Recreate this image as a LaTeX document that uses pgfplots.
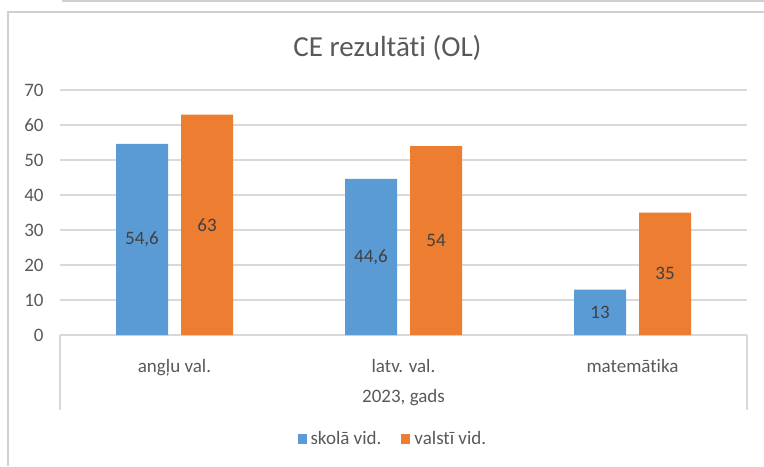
\documentclass[border=0pt]{standalone}
\usepackage{pgfplots}
\pgfplotsset{compat=1.18}
\usepackage{fontspec}
\setmainfont{Carlito}[Ligatures=NoCommon]
\definecolor{cblue}{HTML}{5B9BD5}
\definecolor{corange}{HTML}{ED7D31}
\definecolor{cgrid}{HTML}{D9D9D9}
\definecolor{ctext}{HTML}{595959}
\definecolor{clabel}{HTML}{404040}
\definecolor{cframe}{HTML}{D0D0D0}
\begin{document}
\begin{tikzpicture}
\path[use as bounding box] (0,0) rectangle (382pt,233pt);
% frame lines
\draw[cframe, line width=0.8pt] (31pt,232.6pt) -- (382pt,232.6pt);
\draw[cframe, line width=0.8pt] (4pt,0pt) -- (4pt,227pt) -- (382pt,227pt);
\begin{axis}[
  at={(30pt,65.5pt)}, anchor=south west,
  scale only axis, width=343.5pt, height=122.5pt,
  xmin=-0.5, xmax=2.5, ymin=0, ymax=70,
  xtick={0,1,2},
  xticklabels={angļu val., latv. val., matemātika},
  ytick={0,10,...,70},
  axis line style={draw=none},
  tick style={draw=none},
  ymajorgrids, grid style={cgrid, line width=0.75pt},
  /pgf/number format/assume math mode=true,
  /pgf/number format/use comma,
  ticklabel style={font=\fontsize{9.5}{11}\selectfont, text=ctext},
  yticklabel style={anchor=east, inner sep=0pt, xshift=-8pt},
  xticklabel style={anchor=base, inner sep=0pt, yshift=-14.5pt},
  ybar, bar width=26pt,
  visualization depends on={rawy \as \ry},
  nodes near coords,
  nodes near coords style={anchor=center, yshift={-0.875*\ry pt}, font=\fontsize{9.5}{11}\selectfont, text=clabel},
  legend columns=2,
  legend style={at={(0.486,-0.4245)}, anchor=center, draw=none, fill=none,
    font=\fontsize{9.5}{11}\selectfont, text=ctext, inner sep=0pt,
    /tikz/every even column/.append style={column sep=8pt}},
  legend image code/.code={\fill[#1] (0pt,-2.6pt) rectangle (4.5pt,2.4pt);},
  clip=false,
]
\addplot[fill=cblue, draw=none, bar shift=-16.25pt] coordinates {(0,54.6) (1,44.6) (2,13)};
\addlegendentry{skolā vid.}
\addplot[fill=corange, draw=none, bar shift=16.25pt] coordinates {(0,63) (1,54) (2,35)};
\addlegendentry{valstī vid.}
\end{axis}
% category separators
\draw[cgrid, line width=0.75pt] (30pt,65.5pt) -- (30pt,28pt);
\draw[cgrid, line width=0.75pt] (373.5pt,65.5pt) -- (373.5pt,28pt);
\node[anchor=base, inner sep=0pt, text=ctext, font=\fontsize{9.5}{11}\selectfont] at (201.75pt,32pt) {2023, gads};
\node[anchor=base, inner sep=0pt, text=ctext, font=\fontsize{14.5}{17}\selectfont] at (193.75pt,204.5pt) {CE rezultāti (OL)};
\end{tikzpicture}
\end{document}
